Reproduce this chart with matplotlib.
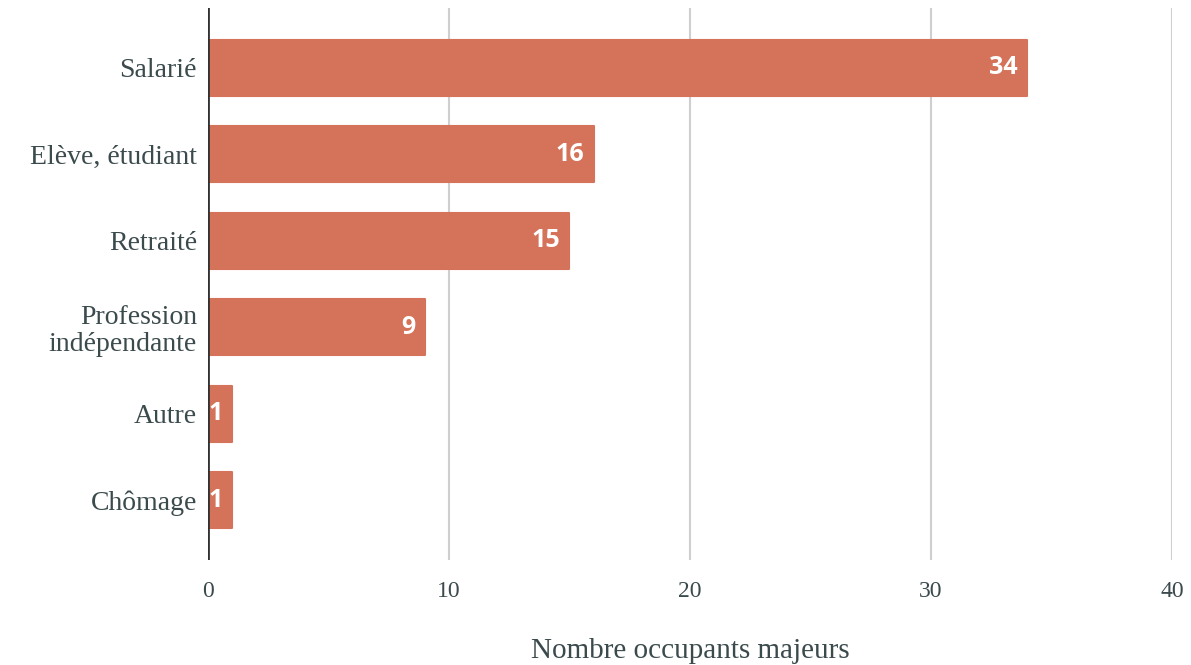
import matplotlib.pyplot as plt
import numpy as np

# occupation of adult occupants
categories = ["Salarié", "Elève, étudiant", "Retraité",
              "Profession\nindépendante", "Autre", "Chômage"]
counts = [34, 16, 15, 9, 1, 1]
xticks = [0, 10, 20, 30, 40]

bar_color = "#d4735a"
text_color = "#3b4a4c"

fig = plt.figure(figsize=(11.91, 6.65), dpi=100)
ax = fig.add_axes([0.1746, 0.158, 0.8094, 0.830])

y = np.arange(len(categories))
ax.barh(y, counts, height=0.65, color=bar_color, edgecolor=bar_color,
        linewidth=1.5, joinstyle="round", zorder=3)

for yi, c in zip(y, counts):
    ax.text(c - 0.4, yi, str(c), ha="right", va="center", color="white",
            fontsize=18, fontweight="bold", family="Open Sans", zorder=4)

ax.set_ylim(len(categories) - 1 + 0.69, -0.69)
ax.set_xlim(0, 40)
ax.set_yticks(y)
ax.set_yticklabels(categories, family="Liberation Serif", fontsize=20,
                   color=text_color, linespacing=1.1)
ax.set_xticks(xticks)
ax.set_xticklabels([str(t) for t in xticks], family="Liberation Serif",
                   fontsize=17, color=text_color)
ax.tick_params(axis="both", length=0)
ax.tick_params(axis="x", pad=15)
ax.tick_params(axis="y", pad=8)

# grid lines, with the zero line darker
for t in xticks[1:]:
    ax.axvline(t, color="#cfcfcf", linewidth=1.5, zorder=1)
ax.axvline(0, color="#333333", linewidth=2, zorder=5)

for s in ax.spines.values():
    s.set_visible(False)

ax.set_xlabel("Nombre occupants majeurs", family="Liberation Serif",
              fontsize=21, color=text_color, labelpad=26)

fig.savefig("out.png", dpi=100)
